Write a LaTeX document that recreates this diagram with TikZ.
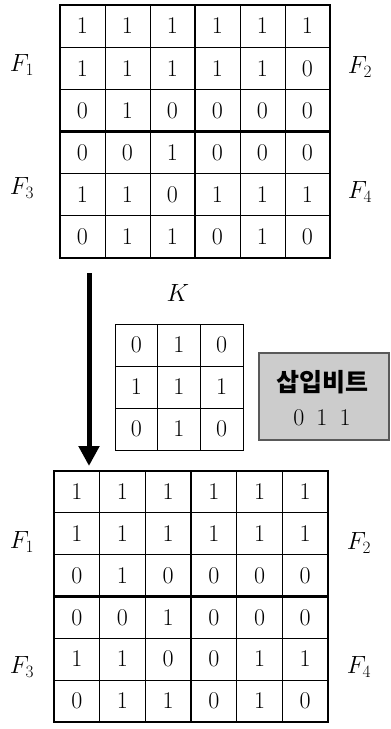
\documentclass[tikz,border=0pt]{standalone}
\usepackage{fontspec}
\newfontfamily\krfont{Noto Sans CJK KR}
\usetikzlibrary{arrows.meta}
\tikzset{
  digit/.style={inner sep=0pt, font=\fontsize{24}{28}\selectfont, text height=15.5pt, text depth=0pt},
  flabel/.style={inner sep=0pt, font=\fontsize{25}{28}\selectfont},
  thinline/.style={line width=0.9pt},
  thickline/.style={line width=2.2pt},
  graybox/.style={draw=black!65, line width=1.2pt, fill=black!20},
  bigarrow/.style={line width=5pt, -{Triangle[width=20pt,length=20pt]}}
}
\begin{document}
\begin{tikzpicture}[x=1pt,y=-1pt]
\useasboundingbox (0,0) rectangle (391,729);
% ---------- top grid ----------
\def\tx{60}\def\ty{5}\def\tw{45}\def\th{42.17}
\foreach \row [count=\r] in {{1,1,1,1,1,1},{1,1,1,1,1,0},{0,1,0,0,0,0},{0,0,1,0,0,0},{1,1,0,1,1,1},{0,1,1,0,1,0}}{
  \foreach \v [count=\c] in \row {
    \node[digit] (T-\r-\c) at ({\tx+\tw*(\c-0.5)},{\ty+\th*(\r-0.5)}) {\v};
  }
}
\foreach \i in {1,2,4,5}{
  \draw[thinline] ({\tx+\tw*\i},\ty) -- ({\tx+\tw*\i},{\ty+6*\th});
  \draw[thinline] (\tx,{\ty+\th*\i}) -- ({\tx+6*\tw},{\ty+\th*\i});
}
\draw[thickline] ({\tx+3*\tw},\ty) -- ({\tx+3*\tw},{\ty+6*\th});
\draw[thickline] (\tx,{\ty+3*\th}) -- ({\tx+6*\tw},{\ty+3*\th});
\draw[thickline] (\tx,\ty) rectangle ({\tx+6*\tw},{\ty+6*\th});
\node[flabel] (TF1) at (22,65) {$F_1$};
\node[flabel] (TF2) at (360,67) {$F_2$};
\node[flabel] (TF3) at (22,188) {$F_3$};
\node[flabel] (TF4) at (360,192) {$F_4$};
% ---------- kernel ----------
\node[flabel] (Klab) at (178,293) {$K$};
\def\kx{115}\def\ky{324}\def\kw{42.67}\def\kh{42}
\foreach \row [count=\r] in {{0,1,0},{1,1,1},{0,1,0}}{
  \foreach \v [count=\c] in \row {
    \node[digit] (K-\r-\c) at ({\kx+\kw*(\c-0.5)},{\ky+\kh*(\r-0.5)}) {\v};
  }
}
\foreach \i in {1,2}{
  \draw[thinline] ({\kx+\kw*\i},\ky) -- ({\kx+\kw*\i},{\ky+3*\kh});
  \draw[thinline] (\kx,{\ky+\kh*\i}) -- ({\kx+3*\kw},{\ky+\kh*\i});
}
\draw[thinline] (\kx,\ky) rectangle ({\kx+3*\kw},{\ky+3*\kh});
% ---------- insert bits box ----------
\draw[graybox] (259,353) rectangle (389,440);
\node[inner sep=0pt, font=\krfont\bfseries\fontsize{25}{28}\selectfont] (ins) at (322,382) {삽입비트};
\node[inner sep=0pt, font=\fontsize{24}{28}\selectfont] (bits) at (322,418) {0\enspace1\enspace1};
% ---------- arrow ----------
\coordinate (A1) at (89,273);
\coordinate (A2) at (89,466);
\draw[bigarrow] (A1) -- (A2);
% ---------- bottom grid ----------
\def\bx{54}\def\by{471}\def\bw{45.67}\def\bh{41.83}
\foreach \row [count=\r] in {{1,1,1,1,1,1},{1,1,1,1,1,1},{0,1,0,0,0,0},{0,0,1,0,0,0},{1,1,0,0,1,1},{0,1,1,0,1,0}}{
  \foreach \v [count=\c] in \row {
    \node[digit] (B-\r-\c) at ({\bx+\bw*(\c-0.5)},{\by+\bh*(\r-0.5)}) {\v};
  }
}
\foreach \i in {1,2,4,5}{
  \draw[thinline] ({\bx+\bw*\i},\by) -- ({\bx+\bw*\i},{\by+6*\bh});
  \draw[thinline] (\bx,{\by+\bh*\i}) -- ({\bx+6*\bw},{\by+\bh*\i});
}
\draw[thickline] ({\bx+3*\bw},\by) -- ({\bx+3*\bw},{\by+6*\bh});
\draw[thickline] (\bx,{\by+3*\bh}) -- ({\bx+6*\bw},{\by+3*\bh});
\draw[thickline] (\bx,\by) rectangle ({\bx+6*\bw},{\by+6*\bh});
\node[flabel] (BF1) at (22,542) {$F_1$};
\node[flabel] (BF2) at (359,543) {$F_2$};
\node[flabel] (BF3) at (22,667) {$F_3$};
\node[flabel] (BF4) at (359,667) {$F_4$};
\end{tikzpicture}
\end{document}
